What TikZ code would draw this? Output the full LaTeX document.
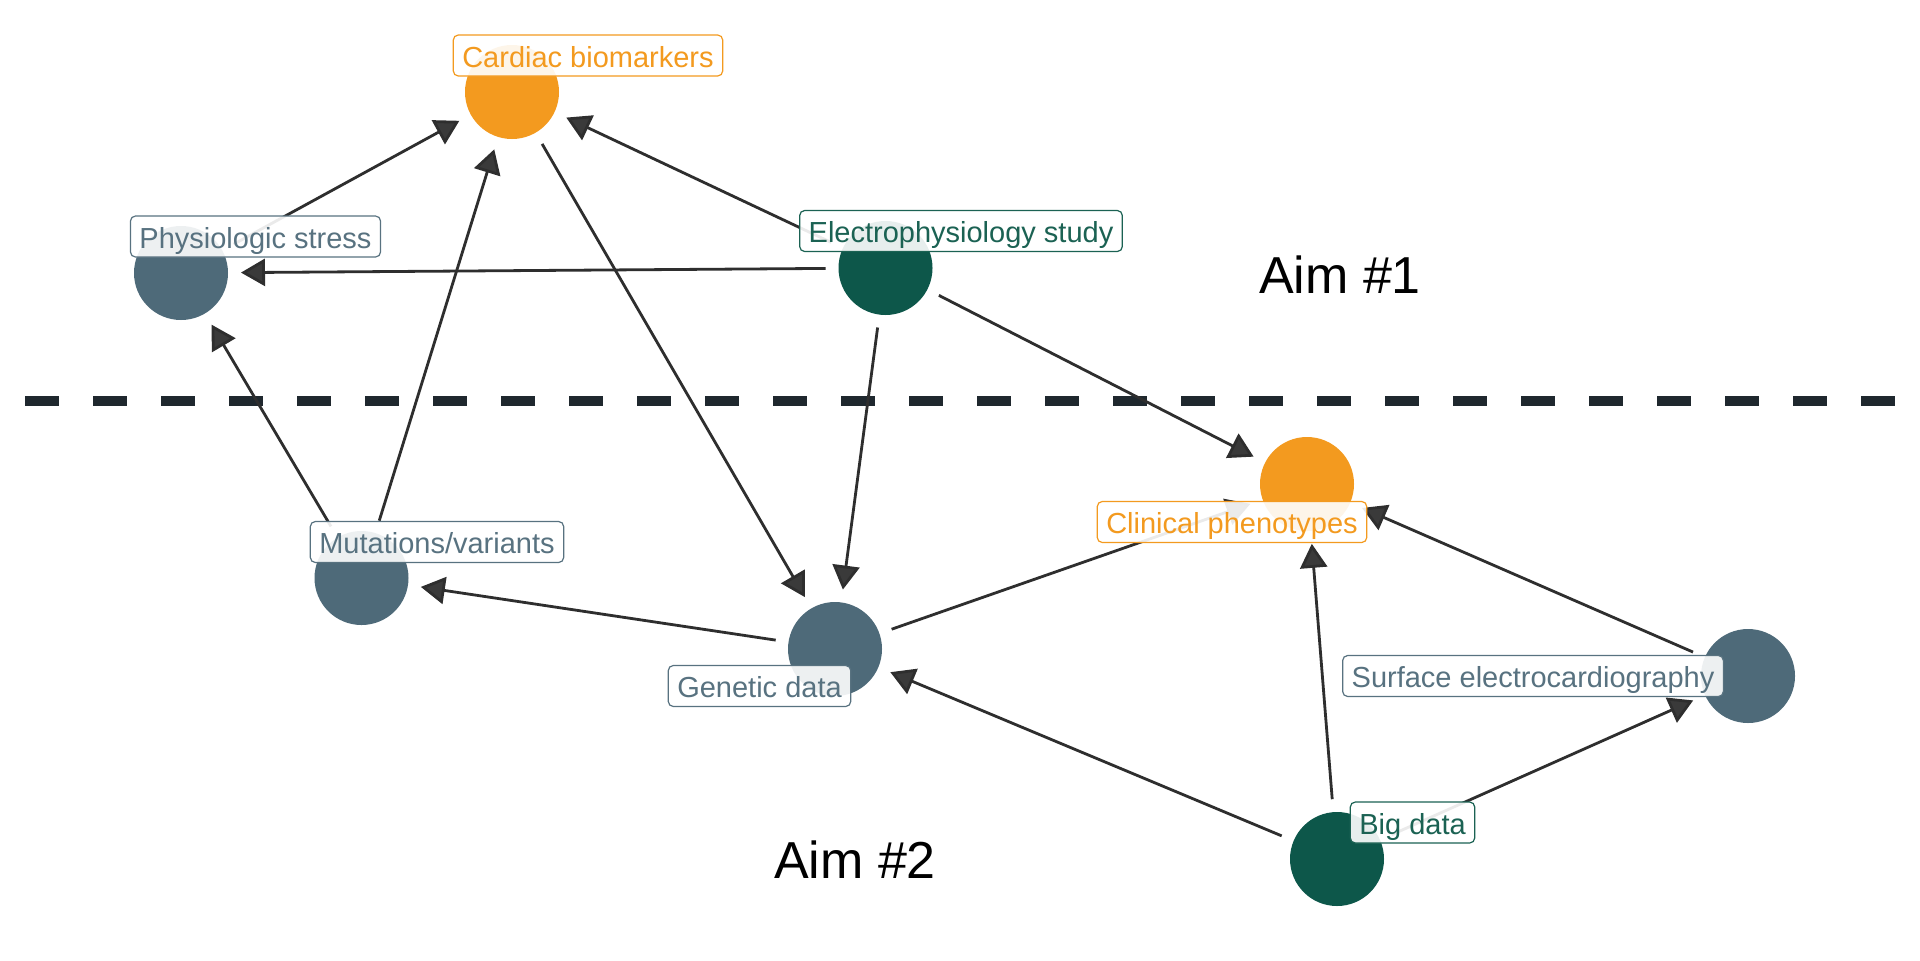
\documentclass[tikz,border=0pt]{standalone}
\usepackage{fontspec}
\setmainfont{Liberation Sans}
\usetikzlibrary{arrows.meta}
\definecolor{orangeN}{HTML}{F39A1F}
\definecolor{slateN}{HTML}{4E6A79}
\definecolor{greenN}{HTML}{0D574A}
\definecolor{slateT}{HTML}{587280}
\definecolor{greenT}{HTML}{1B6253}
\definecolor{edgecol}{HTML}{2E2E2E}
\definecolor{arrfill}{HTML}{3A3A3A}
\definecolor{dashcol}{HTML}{1F282E}
\begin{document}
\begin{tikzpicture}[x=0.5pt,y=-0.5pt,
  dot/.style={circle,minimum size=47pt,inner sep=0pt,outer sep=6.5pt,fill=#1},
  lbl/.style={draw=#1,text=#1,fill=white,fill opacity=0.9,text opacity=1,
    rounded corners=2.5pt,line width=0.6pt,inner xsep=4.5pt,inner ysep=0pt,
    text height=16pt,text depth=4.5pt,font=\fontsize{14.5}{16}\selectfont},
  edge/.style={draw=edgecol,line width=1.4pt,
    -{Triangle[length=12pt,width=13.5pt,fill=arrfill]}},
  aim/.style={font=\fontsize{26}{30}\selectfont,anchor=base,text=black},
  divider/.style={draw=dashcol,line width=4.8pt,dash pattern=on 17pt off 17pt}
]
\useasboundingbox[fill=white] (0,0) rectangle (1920,960);

% dashed divider
\coordinate (dl) at (25,401);
\coordinate (dr) at (1900,401);
\draw[divider] (dl) -- (dr);

% circles
\node[dot=orangeN] (cb) at (512,92) {};
\node[dot=slateN]  (ps) at (181,273) {};
\node[dot=greenN]  (ep) at (885.5,268) {};
\node[dot=slateN]  (mv) at (361.5,578) {};
\node[dot=slateN]  (gd) at (835,649) {};
\node[dot=orangeN] (cp) at (1307,484) {};
\node[dot=slateN]  (se) at (1748,676) {};
\node[dot=greenN]  (bd) at (1337,859) {};

% edges
\draw[edge] (ps) -- (cb);
\draw[edge] (mv) -- (cb);
\draw[edge] (mv) -- (ps);
\draw[edge] (ep) -- (cb);
\draw[edge] (ep) -- (ps);
\draw[edge] (ep) -- (gd);
\draw[edge] (ep) -- (cp);
\draw[edge] (cb) -- (gd);
\draw[edge] (gd) -- (mv);
\draw[edge] (gd) -- (cp);
\draw[edge] (bd) -- (gd);
\draw[edge] (bd) -- (cp);
\draw[edge] (bd) -- (se);
\draw[edge] (se) -- (cp);

% labels
\node[lbl=orangeN] (cbl) at (588,55.5) {Cardiac biomarkers};
\node[lbl=slateT]  (psl) at (255.5,236.5) {Physiologic stress};
\node[lbl=greenT]  (epl) at (961,231) {Electrophysiology study};
\node[lbl=slateT]  (mvl) at (437,542) {Mutations/variants};
\node[lbl=slateT]  (gdl) at (759.5,686) {Genetic data};
\node[lbl=orangeN] (cpl) at (1232,522) {Clinical phenotypes};
\node[lbl=slateT]  (sel) at (1533,676) {Surface electrocardiography};
\node[lbl=greenT]  (bdl) at (1412.5,822.5) {Big data};

% aims
\node[aim] (aim1) at (1340,293) {Aim \#1};
\node[aim] (aim2) at (855,878) {Aim \#2};
\end{tikzpicture}
\end{document}
